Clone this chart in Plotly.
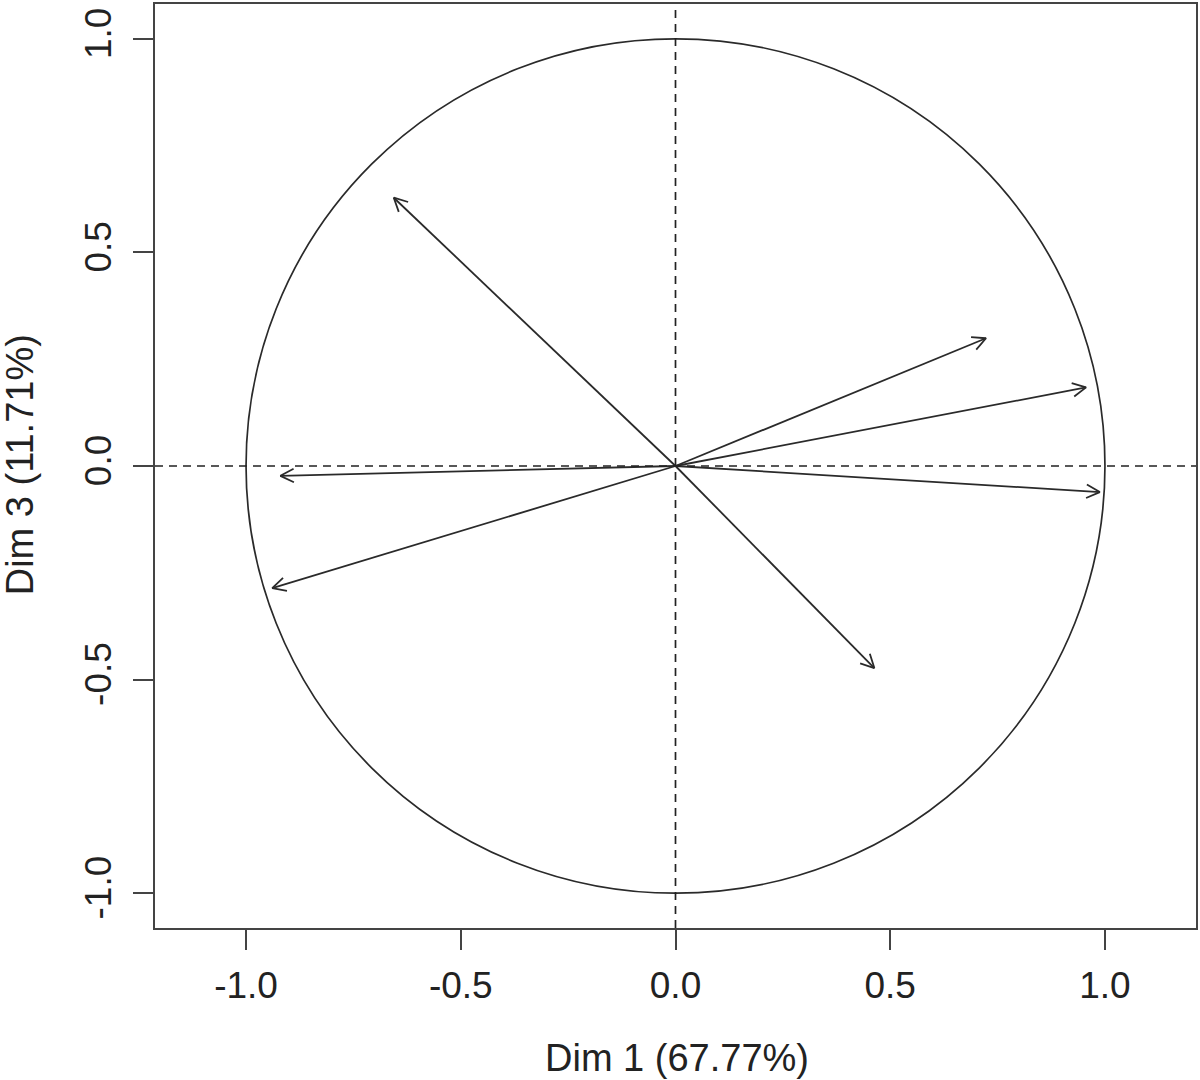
import math
import plotly.graph_objects as go

# Variable coordinates on the correlation circle
dim1 = [-0.656, 0.723, 0.956, 0.988, -0.920, -0.939, 0.463]
dim3 = [0.628, 0.299, 0.184, -0.061, -0.023, -0.286, -0.473]

tick_vals = [-1.0, -0.5, 0.0, 0.5, 1.0]
tick_text = ["-1.0", "-0.5", "0.0", "0.5", "1.0"]

x_title = "Dim 1 (67.77%)"
y_title = "Dim 3 (11.71%)"

W, H = 1200, 1080
ML, MR, MT, MB = 155, 2, 2, 152
XR = [-1.212, 1.212]
YR = [-1.0815, 1.0815]

sx = (W - ML - MR) / (XR[1] - XR[0])
sy = (H - MT - MB) / (YR[1] - YR[0])

col = "#2a2a2a"
fig = go.Figure()

head_len = 15
head_ang = math.radians(27)
for x, y in zip(dim1, dim3):
    fig.add_trace(go.Scatter(x=[0, x], y=[0, y], mode="lines",
                             line=dict(color=col, width=1.8),
                             showlegend=False, hoverinfo="skip"))
    th = math.atan2(y * sy, x * sx)
    bx, by = [], []
    for s in (1, -1):
        a = th + math.pi + s * head_ang
        bx.append(x + head_len * math.cos(a) / sx)
        by.append(y + head_len * math.sin(a) / sy)
    fig.add_trace(go.Scatter(x=[bx[0], x, bx[1]], y=[by[0], y, by[1]], mode="lines",
                             line=dict(color=col, width=1.8),
                             showlegend=False, hoverinfo="skip"))

shapes = [
    dict(type="circle", xref="x", yref="y", x0=-1, y0=-1, x1=1, y1=1,
         line=dict(color=col, width=1.7)),
    dict(type="line", xref="x", yref="paper", x0=0, x1=0, y0=0, y1=1,
         line=dict(color="#222222", width=1.7, dash="8px,6px")),
    dict(type="line", xref="paper", yref="y", x0=0, x1=1, y0=0, y1=0,
         line=dict(color="#222222", width=1.7, dash="8px,6px")),
]

tfont = dict(family="Liberation Sans, Arial, sans-serif", size=37, color="#222222")
afont = dict(family="Liberation Sans, Arial, sans-serif", size=38, color="#222222")

fig.update_layout(
    width=W, height=H,
    margin=dict(l=ML, r=MR, t=MT, b=MB),
    paper_bgcolor="white", plot_bgcolor="white",
    shapes=shapes,
    font=tfont,
    xaxis=dict(range=XR, tickvals=tick_vals, ticktext=tick_text,
               showgrid=False, zeroline=False, showline=True, mirror=True,
               linecolor="#444444", linewidth=2, ticks="outside", ticklen=20,
               tickwidth=1.6, tickcolor="#444444", ticklabelstandoff=4,
               tickfont=tfont),
    yaxis=dict(range=YR, tickvals=tick_vals, ticktext=tick_text,
               showgrid=False, zeroline=False, showline=True, mirror=True,
               linecolor="#444444", linewidth=2, ticks="outside", ticklen=20,
               tickwidth=1.6, tickcolor="#444444", tickangle=-90,
               ticklabelstandoff=7, tickfont=tfont),
    annotations=[
        dict(text=x_title, xref="paper", yref="paper", x=0.5014, y=-0.1404,
             xanchor="center", yanchor="middle", showarrow=False, font=afont),
        dict(text=y_title, xref="paper", yref="paper", x=-0.1295, y=0.501,
             xanchor="center", yanchor="middle", showarrow=False, textangle=-90,
             font=afont),
    ],
)

fig.write_html("out.html", config={"displayModeBar": False},
               post_script="document.body.style.margin='0';")
